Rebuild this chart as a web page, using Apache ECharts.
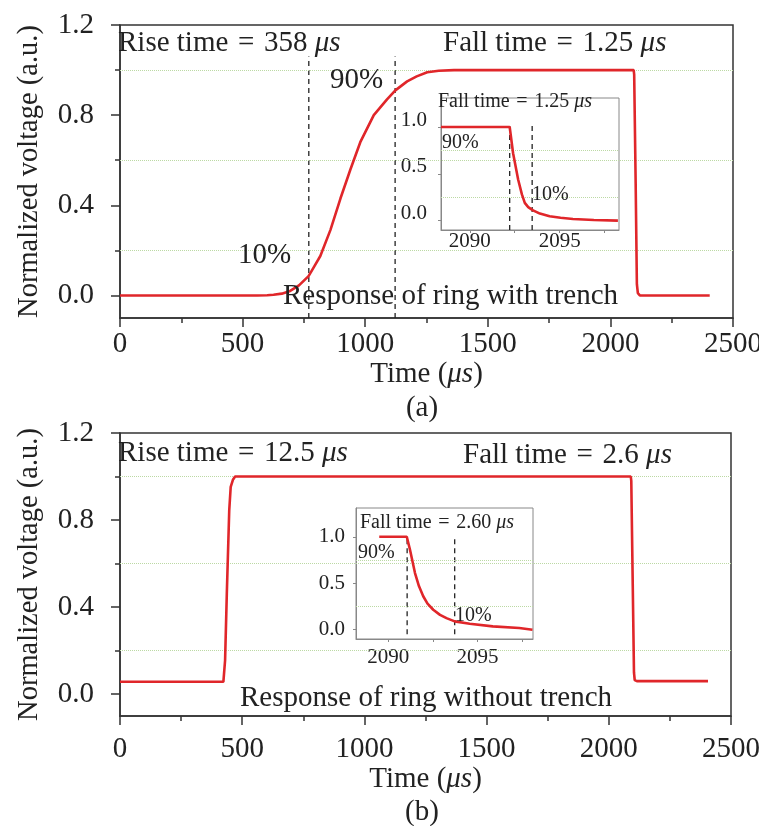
<!DOCTYPE html>
<html>
<head>
<meta charset="utf-8">
<script src="https://cdn.jsdelivr.net/npm/echarts@6/dist/echarts.min.js"></script>
<style>html,body{margin:0;padding:0;background:#fff}#c{width:759px;height:826px}</style>
</head>
<body>
<div id="c"></div>
<script>
// ---------- data ----------
// Panel (a): ring with trench
var aTime = [0, 500, 560, 600, 626, 660, 694, 730, 769, 790, 817, 858, 899, 940, 980, 1035, 1089, 1123, 1171, 1210, 1253, 1300, 1362, 2095, 2097, 2103, 2108, 2112, 2120, 2405];
var aVolt = [0, 0, 0, 0.001, 0.003, 0.008, 0.02, 0.045, 0.086, 0.125, 0.175, 0.29, 0.43, 0.56, 0.68, 0.80, 0.87, 0.91, 0.95, 0.972, 0.99, 0.997, 1.0, 1.0, 0.98, 0.5, 0.05, 0.01, 0, 0];
var aMarkers = [770, 1122];
// inset (a)
var iaTime = [2088.4, 2092.22, 2092.41, 2092.69, 2092.9, 2093.06, 2093.25, 2093.52, 2093.9, 2094.44, 2095.05, 2095.74, 2096.9, 2098.24];
var iaVolt = [1.0, 1.0, 0.72, 0.44, 0.28, 0.19, 0.145, 0.11, 0.075, 0.046, 0.03, 0.018, 0.007, 0.0];
var iaMarkers = [2092.22, 2093.47];
// Panel (b): ring without trench
var bTime = [0, 423, 430, 437, 447, 453, 462, 471, 503, 2090, 2092, 2098, 2103, 2106, 2115, 2406];
var bVolt = [0.057, 0.057, 0.156, 0.46, 0.846, 0.953, 0.985, 1.0, 1.0, 1.0, 0.98, 0.5, 0.1, 0.065, 0.06, 0.06];
// inset (b)
var ibTime = [2089.5, 2091.04, 2091.22, 2091.5, 2091.72, 2091.96, 2092.2, 2092.52, 2092.9, 2093.26, 2093.72, 2094.56, 2095.85, 2097.33, 2098.07];
var ibVolt = [1.0, 1.0, 0.86, 0.61, 0.47, 0.36, 0.28, 0.215, 0.16, 0.125, 0.09, 0.065, 0.036, 0.018, 0.0];
var ibMarkers = [2091.06, 2093.72];

// ticks / labels
var mainYTicks = [0, 0.4, 0.8, 1.2];
var mainYMinor = [0.2, 0.6, 1.0];
var mainGrid = [0.2, 0.6, 1.0];
var insetYTicks = [0, 0.5, 1.0];
var insetGrid = [0.25, 0.75];
var insetXLabels = [2090, 2095];
var insetXTicks = [2090, 2092.5, 2095, 2097.5];

// ---------- helpers ----------
var SERIF = '"Liberation Serif", "Times New Roman", serif';
var TXT = '#222';
var RED = '#e0262a';
var GRIDC = '#bcd9a4';
var EQ = '\u2004=\u2004';
function zip(a, b) { return a.map(function (v, i) { return [v, b[i]]; }); }
var itRich = function (fs) { return { it: { fontStyle: 'italic', fontSize: fs, fontFamily: SERIF, color: TXT } }; };
function plain(v) { return String(v); }

function mainX(gi, labelMargin, nameGap) {
  return {
    type: 'value', gridIndex: gi, min: 0, max: 2500, interval: 500,
    axisLine: { show: true, onZero: false, lineStyle: { color: '#333', width: 1.5 } },
    axisTick: { show: true, inside: false, length: 9, lineStyle: { color: '#333', width: 1.5 } },
    minorTick: { show: true, splitNumber: 2, length: 5, lineStyle: { color: '#333', width: 1.5 } },
    axisLabel: { fontSize: 29, fontFamily: SERIF, color: TXT, margin: labelMargin, formatter: plain },
    splitLine: { show: false }, minorSplitLine: { show: false },
    name: 'Time ({it|μs})', nameLocation: 'middle', nameGap: nameGap,
    nameTextStyle: { fontSize: 29, fontFamily: SERIF, color: TXT, rich: itRich(29) }
  };
}
function mainY(gi) {
  return {
    type: 'value', gridIndex: gi, min: -0.1, max: 1.2, position: 'left',
    axisLine: { show: true, onZero: false, lineStyle: { color: '#333', width: 1.5 } },
    axisTick: { show: true, length: 9, customValues: mainYTicks, lineStyle: { color: '#333', width: 1.5 } },
    axisLabel: { fontSize: 29, fontFamily: SERIF, color: TXT, margin: 26, customValues: mainYTicks,
      formatter: function (v) { return v.toFixed(1); } },
    splitLine: { show: false },
    name: 'Normalized voltage (a.u.)', nameLocation: 'middle', nameGap: 76,
    nameTextStyle: { fontSize: 28.5, fontFamily: SERIF, color: TXT }
  };
}
function minorY(gi) {
  return {
    type: 'value', gridIndex: gi, min: -0.1, max: 1.2, position: 'left', offset: 0,
    axisLine: { show: false, onZero: false },
    axisTick: { show: true, length: 5, customValues: mainYMinor, lineStyle: { color: '#333', width: 1.5 } },
    axisLabel: { show: false },
    splitLine: { show: false }
  };
}
function insetX(gi, min, max, margin) {
  return {
    type: 'value', gridIndex: gi, min: min, max: max,
    axisLine: { show: true, onZero: false, lineStyle: { color: '#888', width: 1 } },
    axisTick: { show: true, length: 3, customValues: insetXTicks, lineStyle: { color: '#888' } },
    axisLabel: { fontSize: 21, fontFamily: SERIF, color: TXT, margin: margin, customValues: insetXLabels, formatter: plain },
    splitLine: { show: false }
  };
}
function insetY(gi, margin, raised) {
  var lab = { fontSize: 21, fontFamily: SERIF, color: TXT, margin: margin, customValues: insetYTicks,
    formatter: function (v) { return v.toFixed(1); } };
  if (raised) { lab.verticalAlign = 'bottom'; lab.lineHeight = 14; }
  return {
    type: 'value', gridIndex: gi, min: -0.1, max: 1.31,
    axisLine: { show: true, onZero: false, lineStyle: { color: '#888', width: 1 } },
    axisTick: { show: true, length: 3, customValues: insetYTicks, lineStyle: { color: '#888' } },
    axisLabel: lab,
    splitLine: { show: false }
  };
}
function gridLines(vals) {
  return {
    silent: true, symbol: ['none', 'none'], label: { show: false },
    lineStyle: { type: 'dotted', color: GRIDC, width: 1 },
    data: vals.map(function (v) { return { yAxis: v }; })
  };
}
function curve(xi, yi, data, grid) {
  return {
    type: 'line', xAxisIndex: xi, yAxisIndex: yi, data: data, showSymbol: false, symbol: 'none',
    smooth: false, z: 5,
    lineStyle: { color: RED, width: 2.6 }, animation: false,
    markLine: gridLines(grid)
  };
}
function dashSeries(xi, yi, xs, bottom, top) {
  return xs.map(function (x) {
    return {
      type: 'line', xAxisIndex: xi, yAxisIndex: yi, data: [[x, bottom], [x, top]],
      showSymbol: false, symbol: 'none', z: 4, animation: false,
      lineStyle: { color: '#222', width: 1.3, type: [5, 4] }
    };
  });
}
function txt(x, y, s, fs, extra) {
  var o = {
    type: 'text', x: x, y: y, z: 100,
    style: { text: s, fontSize: fs, fontFamily: SERIF, fill: TXT, verticalAlign: 'middle', align: 'left', rich: itRich(fs) }
  };
  if (extra) { for (var k in extra) o.style[k] = extra[k]; }
  return o;
}

var chart = echarts.init(document.getElementById('c'), null, { renderer: 'canvas' });
var series = [];
series.push(curve(0, 0, zip(aTime, aVolt), mainGrid));
series = series.concat(dashSeries(0, 0, aMarkers, -0.1, 1.06));
series.push(curve(1, 2, zip(iaTime, iaVolt), insetGrid));
series = series.concat(dashSeries(1, 2, iaMarkers, -0.1, 1.05));
series.push(curve(2, 3, zip(bTime, bVolt), mainGrid));
series.push(curve(3, 5, zip(ibTime, ibVolt), insetGrid));
series = series.concat(dashSeries(3, 5, ibMarkers, -0.05, 1.0));

var gbase = { show: true, backgroundColor: 'transparent', outerBoundsMode: 'none', containLabel: false };
function G(o) { var r = {}; for (var k in gbase) r[k] = gbase[k]; for (var k2 in o) r[k2] = o[k2]; return r; }

chart.setOption({
  backgroundColor: '#fff',
  animation: false,
  grid: [
    G({ left: 120, top: 25, width: 613, height: 293, borderColor: '#333', borderWidth: 1.5 }),
    G({ left: 441, top: 98, width: 178, height: 132, borderColor: '#888', borderWidth: 1, z: 3 }),
    G({ left: 120, top: 433, width: 611, height: 283, borderColor: '#333', borderWidth: 1.5 }),
    G({ left: 356, top: 508, width: 177, height: 131, borderColor: '#888', borderWidth: 1, z: 3 })
  ],
  xAxis: [
    mainX(0, 12, 42),
    insetX(1, 2088.4, 2098.3, 1),
    mainX(2, 19, 49),
    insetX(3, 2088.2, 2098.1, 8)
  ],
  yAxis: [
    mainY(0), minorY(0),
    insetY(1, 14, true),
    mainY(2), minorY(2),
    insetY(3, 11, false)
  ],
  series: series,
  graphic: [
    txt(118, 43, 'Rise time' + EQ + '358 {it|μs}', 29),
    txt(443, 43, 'Fall time' + EQ + '1.25 {it|μs}', 29),
    txt(330, 80, '90%', 29),
    txt(238, 255, '10%', 29),
    txt(283, 296, 'Response of ring with trench', 29),
    txt(422, 408, '(a)', 29, { align: 'center' }),
    txt(438, 102, 'Fall time' + EQ + '1.25 {it|μs}', 20),
    txt(442, 143, '90%', 20),
    txt(532, 195, '10%', 20),
    txt(118, 453, 'Rise time' + EQ + '12.5 {it|μs}', 29),
    txt(463, 455, 'Fall time' + EQ + '2.6 {it|μs}', 29),
    txt(240, 698, 'Response of ring without trench', 29),
    txt(422, 812, '(b)', 29, { align: 'center' }),
    txt(360, 523, 'Fall time' + EQ + '2.60 {it|μs}', 20),
    txt(358, 553, '90%', 20),
    txt(455, 616, '10%', 20)
  ]
});
</script>
</body>
</html>
